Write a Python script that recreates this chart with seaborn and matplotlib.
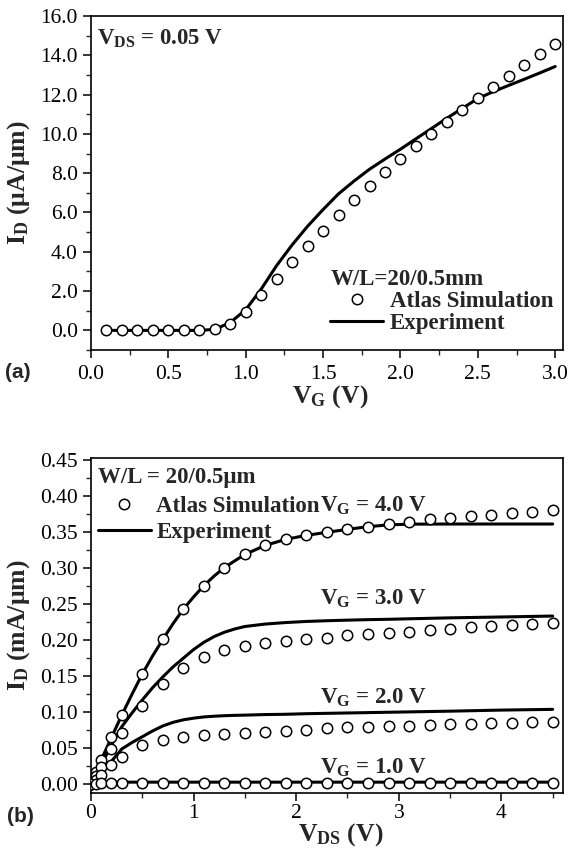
import matplotlib
matplotlib.use("Agg")
import matplotlib.pyplot as plt
import seaborn as sns
from matplotlib.lines import Line2D
from matplotlib.ticker import MultipleLocator, FormatStrFormatter

# --- DATA: panel (a), transfer curve at VDS = 0.05 V ---
vg_sim = [0.1, 0.2, 0.3, 0.4, 0.5, 0.6, 0.7, 0.8, 0.9, 1.0,
          1.1, 1.2, 1.3, 1.4, 1.5, 1.6, 1.7, 1.8, 1.9, 2.0,
          2.1, 2.2, 2.3, 2.4, 2.5, 2.6, 2.7, 2.8, 2.9, 3.0]
id_sim_a = [0, 0, 0, 0, 0, 0, 0, 0.05, 0.3, 0.93,
            1.78, 2.63, 3.47, 4.28, 5.08, 5.86, 6.62, 7.33, 8.04, 8.72,
            9.4, 10.0, 10.6, 11.22, 11.82, 12.38, 12.95, 13.5, 14.06, 14.56]
vg_exp = vg_sim
id_exp_a = [0, 0, 0, 0, 0, 0, 0, 0.05, 0.4, 1.05,
            2.1, 3.3, 4.35, 5.3, 6.15, 6.95, 7.6, 8.2, 8.72, 9.22,
            9.75, 10.27, 10.8, 11.3, 11.8, 12.15, 12.47, 12.78, 13.1, 13.43]

# --- DATA: panel (b), output curves ---
vds_sim = [0, 0.05, 0.1, 0.2, 0.3, 0.5, 0.7, 0.9, 1.1, 1.3, 1.5, 1.7, 1.9,
           2.1, 2.3, 2.5, 2.7, 2.9, 3.1, 3.3, 3.5, 3.7, 3.9, 4.1, 4.3, 4.5]
sim_vg4 = [0, 0.0175, 0.034, 0.065, 0.096, 0.153, 0.201, 0.243, 0.2756, 0.3006, 0.319, 0.3316, 0.340,
           0.346, 0.3497, 0.3538, 0.3575, 0.3607, 0.3644, 0.3677, 0.3695, 0.3718, 0.3737, 0.376, 0.3783, 0.3806]
sim_vg3 = [0, 0.012, 0.0245, 0.0486, 0.0707, 0.1087, 0.139, 0.162, 0.177, 0.1863, 0.192, 0.1956, 0.1988,
           0.2016, 0.2035, 0.2067, 0.208, 0.2104, 0.2117, 0.214, 0.2155, 0.2178, 0.219, 0.221, 0.2224, 0.2243]
sim_vg2 = [0, 0.006, 0.013, 0.027, 0.0375, 0.054, 0.0615, 0.066, 0.0684, 0.0698, 0.0716, 0.0731, 0.074,
           0.0755, 0.0777, 0.079, 0.080, 0.0815, 0.0815, 0.0825, 0.0835, 0.084, 0.085, 0.085, 0.086, 0.0865]
sim_vg1 = [0, 0.001, 0.002, 0.002, 0.002, 0.002, 0.002, 0.002, 0.002, 0.002, 0.002, 0.002, 0.002,
           0.002, 0.002, 0.002, 0.002, 0.002, 0.002, 0.002, 0.002, 0.002, 0.002, 0.002, 0.002, 0.002]

vds_exp = [0, 0.05, 0.1, 0.2, 0.3, 0.4, 0.5, 0.6, 0.7, 0.8, 0.9, 1.0, 1.1, 1.2,
           1.3, 1.4, 1.5, 1.7, 1.9, 2.1, 2.3, 2.5, 2.7, 2.9, 3.1, 3.5, 4.0, 4.5]
exp_vg4 = [0, 0.0175, 0.034, 0.065, 0.096, 0.125, 0.153, 0.178, 0.201, 0.223, 0.243, 0.260, 0.2756, 0.289,
           0.3006, 0.310, 0.319, 0.3316, 0.340, 0.3455, 0.3497, 0.3538, 0.3575, 0.360, 0.361, 0.3612, 0.3612, 0.3612]
exp_vg3 = [0, 0.013, 0.027, 0.0545, 0.08, 0.099, 0.117, 0.134, 0.149, 0.163, 0.175, 0.187, 0.197, 0.205,
           0.211, 0.2155, 0.219, 0.2224, 0.2245, 0.226, 0.227, 0.2278, 0.2285, 0.229, 0.2297, 0.231, 0.2322, 0.2335]
exp_vg2 = [0, 0.007, 0.015, 0.032, 0.049, 0.058, 0.066, 0.074, 0.081, 0.086, 0.0895, 0.0918, 0.0935, 0.0945,
           0.0952, 0.0957, 0.096, 0.0968, 0.0972, 0.098, 0.0985, 0.099, 0.0995, 0.1, 0.1005, 0.1015, 0.103, 0.104]
exp_vg1 = [0, 0.002, 0.003, 0.003, 0.003, 0.003, 0.003, 0.003, 0.003, 0.003, 0.003, 0.003, 0.003, 0.003,
           0.003, 0.003, 0.003, 0.003, 0.003, 0.003, 0.003, 0.003, 0.003, 0.003, 0.003, 0.003, 0.003, 0.003]

vg_labels = ["4.0", "3.0", "2.0", "1.0"]
vg_label_y = [0.378, 0.2488, 0.1124, 0.0153]

# --- STYLE ---
sns.set_theme(style="ticks")
plt.rcParams["font.family"] = ["Liberation Serif", "DejaVu Serif"]
plt.rcParams["mathtext.fontset"] = "custom"
plt.rcParams["mathtext.rm"] = "Liberation Serif"
plt.rcParams["mathtext.bf"] = "Liberation Serif:bold"
plt.rcParams["mathtext.default"] = "regular"

TICK_FS = 15.5
LAB_FS = 18.5
TXT_FS = 16.5
MS = 7.5
LW = 2.2

circle_kw = dict(marker="o", s=MS ** 2, facecolor="white", edgecolor="black", linewidth=1.1, zorder=3)


def style_axes(ax):
    for sp in ax.spines.values():
        sp.set_visible(True)
        sp.set_linewidth(1.2)
        sp.set_color("black")
    ax.tick_params(which="major", direction="out", length=6, width=1.1,
                   labelsize=TICK_FS, top=False, right=False, colors="black")
    ax.tick_params(which="minor", direction="out", length=3.5, width=1.0, top=False, right=False)
    ax.grid(False)


fig = plt.figure(figsize=(5.7, 8.51), dpi=100)
ax1 = fig.add_axes([0.1596, 0.5887, 0.828, 0.3925])
ax2 = fig.add_axes([0.1596, 0.0682, 0.828, 0.3936])

# --- panel (a) ---
sns.lineplot(x=vg_exp, y=id_exp_a, color="black", linewidth=LW, ax=ax1, zorder=2)
sns.scatterplot(x=vg_sim, y=id_sim_a, ax=ax1, **circle_kw)
ax1.set_xlim(0, 3.05)
ax1.set_ylim(-1.0, 16.0)
ax1.xaxis.set_major_locator(MultipleLocator(0.5))
ax1.xaxis.set_minor_locator(MultipleLocator(0.25))
ax1.yaxis.set_major_locator(MultipleLocator(2.0))
ax1.yaxis.set_minor_locator(MultipleLocator(1.0))
ax1.xaxis.set_major_formatter(FormatStrFormatter("%.1f"))
ax1.yaxis.set_major_formatter(FormatStrFormatter("%.1f"))
style_axes(ax1)
ax1.tick_params(axis="x", pad=5)
ax1.set_xlabel(r"$\mathbf{V_G}$ (V)", fontsize=LAB_FS, fontweight="bold")
ax1.set_ylabel(r"$\mathbf{I_D}$ ($\mathbf{\mu}$A/$\mathbf{\mu}$m)", fontsize=LAB_FS, fontweight="bold")
ax1.xaxis.set_label_coords(0.506, -0.1)
ax1.yaxis.set_label_coords(-0.125, 0.5)
ax1.text(0.013, 0.915, r"V$_{\mathbf{DS}}$ = 0.05 V", transform=ax1.transAxes,
         fontsize=TXT_FS, fontweight="bold", va="baseline", ha="left")

handles_a = [
    Line2D([], [], marker="o", linestyle="none", markersize=MS, markerfacecolor="white",
           markeredgecolor="black", markeredgewidth=1.1),
    Line2D([], [], color="black", linewidth=LW),
]
leg1 = ax1.legend(handles_a, ["Atlas Simulation", "Experiment"], title="W/L=20/0.5mm",
                  loc="upper left", bbox_to_anchor=(0.507, 0.244), frameon=False,
                  prop={"weight": "bold", "size": TXT_FS},
                  title_fontproperties={"weight": "bold", "size": TXT_FS},
                  handlelength=2.3, handletextpad=0.3, labelspacing=0.05, borderpad=0,
                  borderaxespad=0)
leg1._legend_box.align = "left"

# --- panel (b) ---
for ys in [exp_vg4, exp_vg3, exp_vg2, exp_vg1]:
    sns.lineplot(x=vds_exp, y=ys, color="black", linewidth=LW, ax=ax2, zorder=2)
for ys in [sim_vg4, sim_vg3, sim_vg2, sim_vg1]:
    sns.scatterplot(x=vds_sim, y=ys, ax=ax2, **circle_kw)
ax2.set_xlim(0, 4.6)
ax2.set_ylim(-0.012, 0.4528)
ax2.xaxis.set_major_locator(MultipleLocator(1))
ax2.xaxis.set_minor_locator(MultipleLocator(0.5))
ax2.yaxis.set_major_locator(MultipleLocator(0.05))
ax2.yaxis.set_minor_locator(MultipleLocator(0.025))
ax2.yaxis.set_major_formatter(FormatStrFormatter("%.2f"))
style_axes(ax2)
ax2.tick_params(axis="x", pad=2)
ax2.set_xlabel(r"$\mathbf{V_{DS}}$ (V)", fontsize=LAB_FS, fontweight="bold")
ax2.set_ylabel(r"$\mathbf{I_D}$ (mA/$\mathbf{\mu}$m)", fontsize=LAB_FS, fontweight="bold")
ax2.xaxis.set_label_coords(0.53, -0.083)
ax2.yaxis.set_label_coords(-0.125, 0.5)

for lab, yv in zip(vg_labels, vg_label_y):
    ax2.text(2.234, yv, r"V$_{\mathbf{G}}$ = " + lab + " V", fontsize=TXT_FS,
             fontweight="bold", va="baseline", ha="left")

leg2 = ax2.legend(handles_a, ["Atlas Simulation", "Experiment"], title="W/L = 20/0.5\u03bcm",
                  loc="upper left", bbox_to_anchor=(0.015, 0.974), frameon=False,
                  prop={"weight": "bold", "size": TXT_FS},
                  title_fontproperties={"weight": "bold", "size": TXT_FS},
                  handlelength=2.3, handletextpad=0.25, labelspacing=0.2, borderpad=0,
                  borderaxespad=0)
leg2._legend_box.align = "left"
leg2._legend_box.sep = 6

fig.text(0.008, 1 - 372 / 851, "(a)", fontsize=15, fontweight="bold",
         family=["Liberation Sans", "DejaVu Sans"], va="center", ha="left")
fig.text(0.012, 1 - 817 / 851, "(b)", fontsize=15, fontweight="bold",
         family=["Liberation Sans", "DejaVu Sans"], va="center", ha="left")

fig.savefig("out.png", dpi=100)
plt.close(fig)
